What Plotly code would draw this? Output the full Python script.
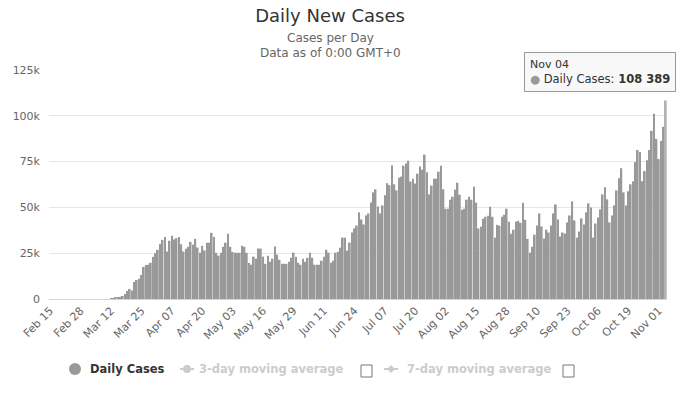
import pandas as pd
import plotly.graph_objects as go

# ---- data ----
start_date = "2020-02-15"
feb = [0, 0, 0, 0, 0, 0, 0, 0, 0, 0, 0, 0, 0, 0, 0]
mar = [0, 0, 0, 0, 0, 0, 0, 0, 0, 0, 0, 443, 526, 696,
       780, 1150, 1650, 2700, 4400, 5500, 4700, 9300, 10400, 11000, 13100,
       17500, 18600, 18700, 19800, 23000, 25000]
apr = [26800, 30100, 32300, 33800, 25900, 31800, 34500, 32500, 33200, 33800,
       29900, 25900, 27400, 28500, 31200, 29600, 32800, 28100, 25200, 29000,
       26500, 30700, 30700, 36100, 33900, 25200, 23700, 25200, 28500, 30700]
may = [35600, 28500, 25700, 25200, 25200, 25200, 29000, 28500, 25200, 19700,
       18700, 23100, 22000, 27500, 27500, 23100, 19200, 23600, 20300, 22000,
       28600, 24200, 21400, 19200, 19200, 19200, 20300, 22500, 25300, 23100, 19800]
jun = [18700, 22000, 20300, 22500, 25300, 22500, 18700, 18700, 18700, 20900,
       23100, 26900, 25300, 19800, 20900, 25300, 25800, 28000, 33500, 33500,
       26400, 30800, 36300, 38500, 40100, 47300, 43400, 40700, 45600, 46700]
jul = [52700, 58200, 59900, 50500, 46700, 51100, 56600, 63200, 62100, 73000,
       62600, 59300, 66200, 66800, 72800, 73900, 75500, 64100, 65700, 63000,
       68400, 72300, 70600, 78800, 69200, 57100, 61900, 65700, 65700, 69500, 72800]
aug = [59900, 49300, 49300, 54200, 55800, 59700, 63500, 56900, 48700, 49300,
       54200, 55800, 54200, 61300, 52600, 38500, 39400, 43800, 44900, 45400,
       50400, 44900, 33400, 40500, 40000, 44900, 46000, 49300, 42200, 35600, 37800]
sep = [42200, 42700, 41600, 52600, 43200, 32800, 25200, 28500, 35100, 40100,
       46700, 39600, 33000, 37900, 36300, 40100, 46700, 51600, 43400, 34100,
       36300, 35700, 41800, 45600, 53300, 42900, 33500, 36800, 44000, 40700]
oct_ = [47300, 52200, 50000, 33500, 41200, 44500, 48900, 57100, 61000, 54400,
        41800, 45600, 51100, 59300, 65900, 71400, 58200, 51100, 58800, 62600,
        64300, 74700, 81300, 80200, 64300, 69800, 75800, 81300, 91800, 101100, 87400]
nov = [76400, 86300, 94000, 108389]

daily_cases = feb + mar + apr + may + jun + jul + aug + sep + oct_ + nov
dates = pd.date_range(start_date, periods=len(daily_cases), freq="D")
date_labels = [d.strftime("%b %d") for d in dates]
tick_step = 13
y_ticks = [0, 25000, 50000, 75000, 100000, 125000]
y_tick_labels = ["0", "25k", "50k", "75k", "100k", "125k"]

# ---- layout geometry (pixels) ----
W, H = 688, 393
L, R, T, B = 49, 667, 70, 299
def px(x):
    return (x - L) / (R - L)
def py(y):
    return (B - y) / (B - T)

FONT = "DejaVu Sans"
idx = list(range(len(daily_cases)))
colors = ["#999999"] * len(daily_cases)
colors[-1] = "#b3b3b3"

fig = go.Figure()
fig.add_trace(go.Bar(
    x=idx, y=daily_cases, marker=dict(color=colors, line=dict(width=0)),
    customdata=date_labels, name="Daily Cases",
    hovertemplate="%{customdata}<br>Daily Cases: %{y}<extra></extra>",
))

fig.update_layout(
    width=W, height=H, autosize=False,
    margin=dict(l=L, r=W - R, t=T, b=H - B, pad=0),
    paper_bgcolor="white", plot_bgcolor="white",
    font=dict(family=FONT, color="#666666", size=11),
    bargap=0.25, showlegend=False,
    title=dict(text="Daily New Cases", x=330 / W, xanchor="center",
               y=1 - 16 / H, yanchor="middle",
               font=dict(size=18, color="#333333", family=FONT)),
)
fig.update_xaxes(
    range=[-0.5, len(daily_cases) - 0.5],
    tickmode="array",
    tickvals=idx[::tick_step], ticktext=date_labels[::tick_step],
    tickangle=-45, tickfont=dict(size=11, color="#666666"),
    showgrid=False, zeroline=False,
    showline=True, linecolor="#ccd6eb", linewidth=1, layer="above traces",
    ticks="", fixedrange=True, automargin=False,
)
fig.update_yaxes(
    range=[0, 125000], tickmode="array", tickvals=y_ticks, ticktext=y_tick_labels,
    showgrid=True, gridcolor="#e6e6e6", gridwidth=1,
    zeroline=False, showline=False, ticks="",
    tickfont=dict(size=11, color="#666666"), ticklabelstandoff=8, automargin=False,
)

ann = []
# subtitle
ann.append(dict(xref="paper", yref="paper", x=px(330), y=py(38), xanchor="center",
                yanchor="middle", showarrow=False,
                text="Cases per Day", font=dict(size=12, color="#666666", family=FONT)))
ann.append(dict(xref="paper", yref="paper", x=px(330), y=py(53), xanchor="center",
                yanchor="middle", showarrow=False,
                text="Data as of 0:00 GMT+0", font=dict(size=12, color="#666666", family=FONT)))
# tooltip
ann.append(dict(xref="paper", yref="paper", x=px(524), y=py(52), xanchor="left",
                yanchor="top", showarrow=False, align="left",
                text=("<span style='font-size:11px'>" + date_labels[-1] + "</span><br>"
                      "<span style='color:#999999'>●</span> Daily Cases: <b>108 389</b>"),
                font=dict(size=11.5, color="#333333", family=FONT),
                bgcolor="rgba(247,247,247,0.9)", bordercolor="#999999",
                borderwidth=1, borderpad=5))
# legend texts
ann.append(dict(xref="paper", yref="paper", x=px(88), y=py(369), xanchor="left",
                yanchor="middle", showarrow=False,
                text="<b>Daily Cases</b>", font=dict(size=11.5, color="#333333", family=FONT)))
ann.append(dict(xref="paper", yref="paper", x=px(197), y=py(369), xanchor="left",
                yanchor="middle", showarrow=False,
                text="<b>3-day moving average</b>", font=dict(size=11.5, color="#cccccc", family=FONT)))
ann.append(dict(xref="paper", yref="paper", x=px(405), y=py(369), xanchor="left",
                yanchor="middle", showarrow=False,
                text="<b>7-day moving average</b>", font=dict(size=11.5, color="#cccccc", family=FONT)))
fig.update_layout(annotations=ann)

shapes = []
# legend marker for Daily Cases
shapes.append(dict(type="circle", xref="paper", yref="paper",
                   x0=px(69), x1=px(81), y0=py(375), y1=py(363),
                   fillcolor="#999999", line=dict(width=0)))
# moving-average legend symbols
for x0, sym in [(180, "circle"), (384, "diamond")]:
    shapes.append(dict(type="line", xref="paper", yref="paper",
                       x0=px(x0), x1=px(x0 + 14), y0=py(369), y1=py(369),
                       line=dict(color="#cccccc", width=2)))
    cx = x0 + 7
    if sym == "circle":
        shapes.append(dict(type="circle", xref="paper", yref="paper",
                           x0=px(cx - 4), x1=px(cx + 4), y0=py(373), y1=py(365),
                           fillcolor="#cccccc", line=dict(width=0)))
    else:
        shapes.append(dict(type="path", xref="paper", yref="paper",
                           path=f"M {px(cx)} {py(365)} L {px(cx + 4)} {py(369)} L {px(cx)} {py(373)} L {px(cx - 4)} {py(369)} Z",
                           fillcolor="#cccccc", line=dict(width=0)))
# checkboxes
for x0 in [361, 563]:
    shapes.append(dict(type="rect", xref="paper", yref="paper",
                       x0=px(x0), x1=px(x0 + 11), y0=py(377), y1=py(365),
                       line=dict(color="#777777", width=1), fillcolor="white"))
fig.update_layout(shapes=shapes)

fig.write_html("out.html", config={"displayModeBar": False},
               post_script="document.body.style.margin='0px';document.body.style.overflow='hidden';")
